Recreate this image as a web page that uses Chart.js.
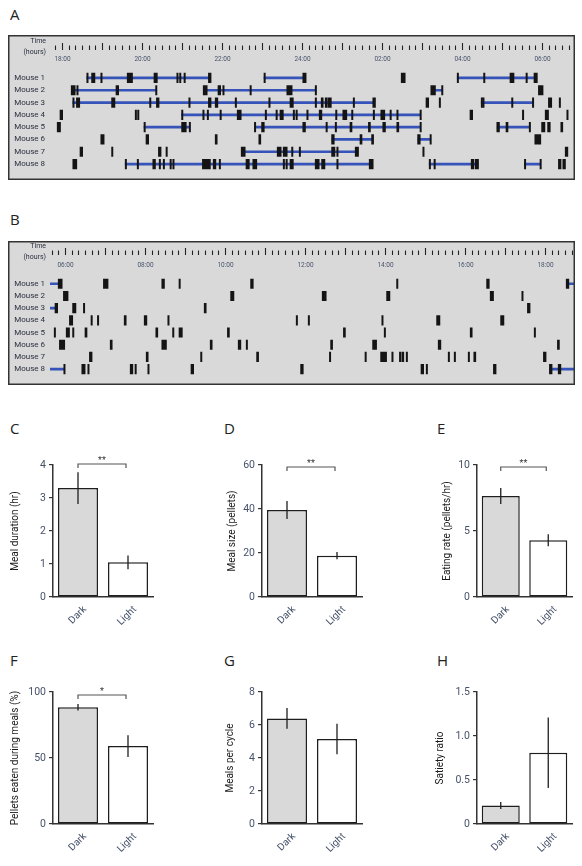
<!DOCTYPE html>
<html>
<head>
<meta charset="utf-8">
<script src="https://cdn.jsdelivr.net/npm/chart.js@4"></script>
<style>
html, body { margin: 0; padding: 0; background: #fff; overflow: hidden; }
#page { position: relative; width: 582px; height: 866px; }
.box { position: absolute; }
.tag { position: absolute; font: 15px 'Open Sans', sans-serif; color: #222; line-height: 20px; }
</style>
</head>
<body>
<div id="page">
  <div class="tag" style="left:10px;top:4px">A</div>
  <div class="tag" style="left:10px;top:209px">B</div>
  <div class="tag" style="left:10px;top:418px">C</div>
  <div class="tag" style="left:224px;top:418px">D</div>
  <div class="tag" style="left:437px;top:418px">E</div>
  <div class="tag" style="left:10px;top:650px">F</div>
  <div class="tag" style="left:224px;top:650px">G</div>
  <div class="tag" style="left:437px;top:650px">H</div>

  <div class="box" style="left:8px;top:35px;width:567px;height:145px"><canvas id="rasterA"></canvas></div>
  <div class="box" style="left:8px;top:241px;width:567px;height:144px"><canvas id="rasterB"></canvas></div>

  <div class="box" style="left:0px;top:440px;width:163px;height:200px"><canvas id="barC"></canvas></div>
  <div class="box" style="left:209px;top:440px;width:163px;height:200px"><canvas id="barD"></canvas></div>
  <div class="box" style="left:424px;top:440px;width:156px;height:200px"><canvas id="barE"></canvas></div>
  <div class="box" style="left:0px;top:667px;width:163px;height:199px"><canvas id="barF"></canvas></div>
  <div class="box" style="left:209px;top:667px;width:163px;height:199px"><canvas id="barG"></canvas></div>
  <div class="box" style="left:424px;top:667px;width:156px;height:199px"><canvas id="barH"></canvas></div>
</div>
<script>
const mice = ["Mouse 1", "Mouse 2", "Mouse 3", "Mouse 4", "Mouse 5", "Mouse 6", "Mouse 7", "Mouse 8"];

// A: dark phase, feeding events [onset hour, duration min]; hours after midnight run on past 24
const nightEvents = [
  [[18.62,2],[18.74,5],[18.97,2],[19.63,8],[20.30,5],[20.87,2],[20.94,2],[21.05,2],[21.66,4],[23.05,2],[24.02,5],[26.48,6],[27.88,2],[28.54,2],[29.2,6],[29.6,2],[29.8,5]],
  [[18.23,6],[18.37,2],[19.35,4],[20.34,2],[21.53,6],[21.9,4],[22.02,2],[22.7,2],[23.62,8],[24.33,2],[27.22,7],[27.49,2],[29.91,7]],
  [[18.27,2],[18.36,5],[19.24,5],[20.19,2],[20.36,4],[21.17,2],[21.66,4],[21.83,4],[22.33,2],[23.17,2],[23.7,5],[24.33,2],[24.48,3],[24.58,3],[24.65,5],[25.28,2],[25.77,4],[27.1,4],[27.43,2],[28.48,2],[28.52,2],[29.24,2],[29.76,2],[30.16,5],[30.43,2]],
  [[17.95,4],[19.83,2],[19.89,2],[20.99,2],[21.52,2],[21.63,2],[21.95,2],[22.38,6],[23.08,2],[23.35,2],[23.45,5],[23.78,2],[23.85,2],[24.12,2],[24.43,4],[24.84,2],[25.02,6],[25.24,2],[25.78,2],[25.97,6],[26.2,2],[26.37,2],[26.95,2],[28.2,4],[29.51,2],[30.08,5],[30.62,2]],
  [[17.88,5],[20.05,2],[20.99,7],[21.18,2],[22.81,2],[22.99,4],[24.02,4],[24.6,2],[24.83,2],[25.2,3],[25.66,3],[26.02,4],[26.37,3],[26.95,2],[28.87,4],[29.1,3],[29.68,2],[29.99,5],[30.14,4],[30.47,3]],
  [[18.97,5],[20.1,4],[21.83,3],[22.92,3],[24.74,4],[25.45,3],[25.74,3],[26.89,4],[27.2,2],[29.82,9]],
  [[18.45,4],[19.24,2],[20.41,4],[20.6,2],[22.48,6],[23.38,6],[23.53,6],[23.74,2],[23.93,2],[24.74,5],[24.87,2],[25.33,5],[27.02,2],[30.58,4]],
  [[18.27,6],[19.58,2],[19.88,2],[20.27,4],[20.43,2],[20.53,2],[20.7,2],[20.77,2],[21.51,12],[21.78,4],[21.93,2],[22.6,5],[22.77,6],[23.53,2],[23.6,2],[23.7,5],[24.33,6],[24.49,5],[24.87,2],[25.68,6],[27.18,2],[27.3,2],[28.23,4],[28.33,5],[29.56,2],[29.95,2],[30.41,4],[30.52,4]]
];
// A: meals [start hour, end hour]
const nightMeals = [
  [[18.62,21.7],[23.05,24.08],[27.88,29.87]],
  [[18.25,20.35],[21.55,24.34],[27.25,27.5]],
  [[18.27,25.8],[28.48,29.77]],
  [[20.99,26.95]],
  [[20.05,21.19],[22.81,26.96],[28.88,29.69]],
  [[24.75,25.77],[26.9,27.2]],
  [[22.5,25.4]],
  [[19.58,25.75],[27.18,28.4],[29.56,29.96]]
];

// B: light phase
const dayEvents = [
  [[5.83,6],[6.96,7],[8.42,4],[8.85,2],[10.64,4],[14.29,2],[16.54,4],[18.53,4]],
  [[5.96,7],[10.14,5],[12.43,6],[14.04,5],[16.63,5],[17.42,2]],
  [[5.75,4],[6.19,5],[6.46,2],[9.48,3],[17.56,4]],
  [[6.11,5],[6.65,2],[6.81,2],[7.48,3],[7.98,4],[8.57,2],[11.78,2],[12.08,2],[13.92,2],[15.29,5],[16.89,5]],
  [[5.73,2],[6.03,5],[6.19,2],[6.5,3],[8.27,3],[8.69,2],[8.85,5],[10.06,3],[12.96,3],[13.98,2],[16.13,3],[17.73,2]],
  [[5.86,8],[7.13,3],[8.42,7],[9.63,3],[10.33,4],[10.53,2],[12.64,3],[13.69,6],[15.33,4],[18.31,3]],
  [[6.61,4],[8.03,3],[9.39,2],[10.79,3],[12.61,2],[13.5,2],[13.89,9],[14.17,2],[14.36,2],[14.42,3],[14.53,2],[15.58,2],[15.73,2],[16.08,2],[16.22,3],[17.96,4]],
  [[5.97,2],[6.42,5],[6.57,2],[7.63,4],[7.75,2],[8.07,2],[9.15,4],[11.89,4],[14.9,4],[15.03,2],[16.71,4],[18.11,4],[18.33,4]]
];
const dayMeals = [
  [[5.6,5.87],[18.55,18.8]],
  [],
  [[5.6,5.77]],
  [],
  [],
  [[5.88,5.98]],
  [],
  [[5.6,5.98],[18.12,18.8]]
];

// C-H: group means and s.e.m.
const groups = ["Dark", "Light"];
const mealDuration = [3.3, 1.05];     const mealDurationSem = [0.48, 0.21];
const mealSize = [39.5, 18.8];        const mealSizeSem = [4.1, 1.6];
const eatingRate = [7.65, 4.3];       const eatingRateSem = [0.6, 0.45];
const pelletsInMeals = [88.5, 59];    const pelletsInMealsSem = [2.5, 8.3];
const mealsPerCycle = [6.4, 5.15];    const mealsPerCycleSem = [0.63, 0.93];
const satietyRatio = [0.21, 0.81];    const satietyRatioSem = [0.04, 0.40];

const FONT = "Roboto, sans-serif";
const SLATE = "#46526a";
Chart.defaults.font.family = FONT;

function hourLabel(h) {
  return h === 24 ? "24:00" : String(h % 24).padStart(2, "0") + ":00";
}

// grey box, 10-min ticks and clock labels for the raster panels
const timeAxis = {
  id: "timeAxis",
  beforeDraw(chart) {
    const { ctx, width, height } = chart;
    ctx.save();
    ctx.fillStyle = "#d9d9d9";
    ctx.fillRect(0, 0, width, height);
    ctx.restore();
  },
  afterDraw(chart, args, o) {
    const { ctx, width, height } = chart;
    const x = chart.scales.x;
    ctx.save();
    ctx.strokeStyle = "#333";
    ctx.lineWidth = 1.5;
    ctx.strokeRect(0.75, 0.75, width - 1.5, height - 1.5);
    ctx.lineWidth = 1.1;
    ctx.strokeStyle = "#222";
    ctx.fillStyle = SLATE;
    ctx.font = "6.5px " + FONT;
    ctx.textAlign = "center";
    ctx.textBaseline = "middle";
    for (let k = Math.ceil(x.min * 6); k <= Math.floor(x.max * 6); k++) {
      const px = Math.round(x.getPixelForValue(k / 6)) + 0.5;
      ctx.beginPath();
      ctx.moveTo(px, k % 6 === 0 ? o.tickTop : o.tickTop + 2.5);
      ctx.lineTo(px, o.tickTop + 7);
      ctx.stroke();
      if (k % 12 === 0) ctx.fillText(hourLabel(k / 6), px, o.labelY);
    }
    ctx.fillStyle = "#2b3040";
    ctx.font = "7px " + FONT;
    ctx.textAlign = "right";
    ctx.fillText("Time", 38, o.tickTop - 2);
    ctx.fillText("(hours)", 38, o.tickTop + 9);
    ctx.restore();
  }
};

function raster(id, events, meals, min, max, pad, axisOpt) {
  const ev = [], ml = [];
  events.forEach((list, i) => list.forEach(([t, m]) => ev.push({ x: [t, t + m / 60], y: mice[i] })));
  meals.forEach((list, i) => list.forEach(([a, b]) => ml.push({ x: [a, b], y: mice[i] })));
  new Chart(document.getElementById(id), {
    type: "bar",
    data: {
      labels: mice,
      datasets: [
        { data: ev, backgroundColor: "#141414", barThickness: 9.5, grouped: false, order: 0 },
        { data: ml, backgroundColor: "#3553b8", barThickness: 2, grouped: false, order: 1 }
      ]
    },
    options: {
      indexAxis: "y",
      animation: false,
      responsive: true,
      maintainAspectRatio: false,
      layout: { padding: { top: pad[0], bottom: pad[1], left: 0, right: 1 } },
      plugins: { legend: { display: false }, tooltip: { enabled: false }, timeAxis: axisOpt },
      scales: {
        x: { type: "linear", min: min, max: max, display: false },
        y: {
          grid: { display: false, drawTicks: false, tickLength: 0 },
          border: { display: false },
          ticks: { color: "#2b3040", font: { size: 8 }, padding: 5, autoSkip: false },
          afterFit: (s) => { s.width = 42; }
        }
      }
    },
    plugins: [timeAxis]
  });
}

raster("rasterA", nightEvents, nightMeals, 17.7, 30.8, [36.8, 8.8], { tickTop: 8, labelY: 24 });
raster("rasterB", dayEvents, dayMeals, 5.625, 18.725, [36.7, 6.7], { tickTop: 7, labelY: 24 });

// error bars, significance bracket and slanted group labels
const errBars = {
  id: "errBars",
  afterDatasetsDraw(chart, args, o) {
    const { ctx } = chart;
    const xs = chart.scales.x, ys = chart.scales.y;
    const vals = chart.data.datasets[0].data;
    ctx.save();
    ctx.strokeStyle = "#1e1e1e";
    ctx.lineWidth = 1.3;
    vals.forEach((v, i) => {
      const px = xs.getPixelForValue(i);
      ctx.beginPath();
      ctx.moveTo(px, ys.getPixelForValue(v - o.sem[i]));
      ctx.lineTo(px, ys.getPixelForValue(v + o.sem[i]));
      ctx.stroke();
    });
    if (o.sig) {
      const x1 = xs.getPixelForValue(0), x2 = xs.getPixelForValue(1) - 2;
      const y = chart.chartArea.top + o.sigDy;
      ctx.strokeStyle = "#555";
      ctx.lineWidth = 1.2;
      ctx.beginPath();
      ctx.moveTo(x1, y + 4);
      ctx.lineTo(x1, y);
      ctx.lineTo(x2, y);
      ctx.lineTo(x2, y + 4);
      ctx.stroke();
      ctx.fillStyle = "#333";
      ctx.font = "9px " + FONT;
      ctx.textAlign = "center";
      ctx.textBaseline = "alphabetic";
      ctx.fillText(o.sig, (x1 + x2) / 2, y - 1);
    }
    ctx.fillStyle = SLATE;
    ctx.font = "10px " + FONT;
    ctx.textAlign = "right";
    ctx.textBaseline = "middle";
    chart.data.labels.forEach((lab, i) => {
      ctx.save();
      ctx.translate(xs.getPixelForValue(i) + 7, xs.top + 11);
      ctx.rotate(-Math.PI / 4);
      ctx.fillText(lab, 0, 0);
      ctx.restore();
    });
    ctx.restore();
  }
};

function barPanel(id, vals, sem, o) {
  new Chart(document.getElementById(id), {
    type: "bar",
    data: {
      labels: groups,
      datasets: [{
        data: vals,
        backgroundColor: ["#d9d9d9", "#ffffff"],
        borderColor: "#1e1e1e",
        borderWidth: 1.5,
        borderSkipped: false,
        barPercentage: 0.8,
        categoryPercentage: 1
      }]
    },
    options: {
      animation: false,
      responsive: true,
      maintainAspectRatio: false,
      layout: { padding: { top: 25, right: o.right, left: 0, bottom: 0 } },
      plugins: {
        legend: { display: false },
        tooltip: { enabled: false },
        errBars: { sem: sem, sig: o.sig, sigDy: o.sigDy || 0 }
      },
      scales: {
        x: {
          grid: { display: false },
          border: { color: "#333", width: 1.5 },
          ticks: { display: false },
          afterFit: (s) => { s.height = o.xh; }
        },
        y: {
          min: 0,
          max: o.max,
          ticks: { stepSize: o.step, color: SLATE, font: { size: 10.5 }, padding: 3, callback: o.fmt || ((v) => v) },
          grid: { drawOnChartArea: false, tickLength: 4, color: "#333", lineWidth: 1.2 },
          border: { color: "#333", width: 1.5 },
          title: { display: true, text: o.title, color: "#1a1a1a", font: { size: 10 }, padding: { top: o.tpad, bottom: 0 } },
          afterFit: (s) => { s.width = 53; }
        }
      }
    },
    plugins: [errBars]
  });
}

barPanel("barC", mealDuration, mealDurationSem, { max: 4, step: 1, title: "Meal duration (hr)", tpad: 9, right: 10, xh: 43, sig: "**", sigDy: -1 });
barPanel("barD", mealSize, mealSizeSem, { max: 60, step: 20, title: "Meal size (pellets)", tpad: 17, right: 10, xh: 43, sig: "**", sigDy: 2 });
barPanel("barE", eatingRate, eatingRateSem, { max: 10, step: 5, title: "Eating rate (pellets/hr)", tpad: 17, right: 8, xh: 43, sig: "**", sigDy: 2 });
barPanel("barF", pelletsInMeals, pelletsInMealsSem, { max: 100, step: 50, title: "Pellets eaten during meals (%)", tpad: 9, right: 10, xh: 42, sig: "*", sigDy: 3 });
barPanel("barG", mealsPerCycle, mealsPerCycleSem, { max: 8, step: 2, title: "Meals per cycle", tpad: 15, right: 10, xh: 42 });
barPanel("barH", satietyRatio, satietyRatioSem, { max: 1.5, step: 0.5, title: "Satiety ratio", tpad: 10, right: 8, xh: 42, fmt: (v) => (v === 0 ? "0" : v.toFixed(1)) });
</script>
</body>
</html>
